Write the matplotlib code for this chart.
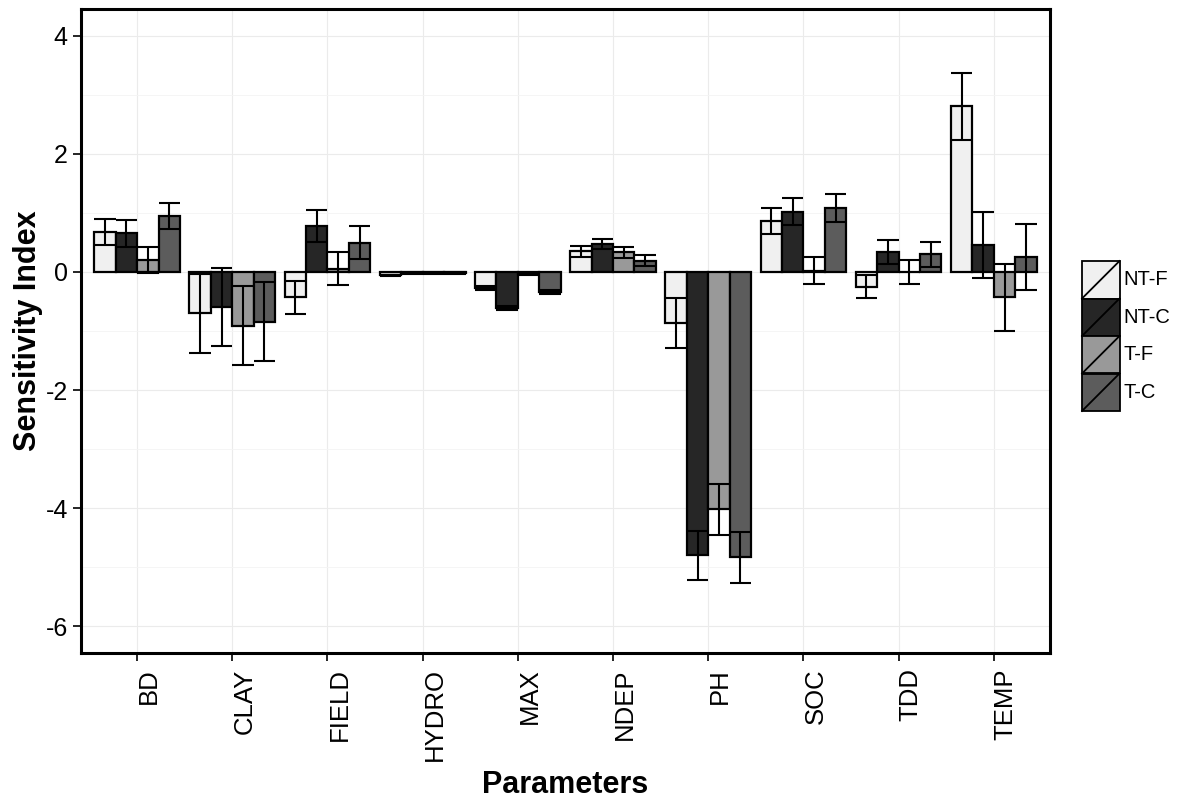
import numpy as np
import matplotlib
matplotlib.use("Agg")
import matplotlib.pyplot as plt
from matplotlib.patches import Rectangle
from matplotlib.lines import Line2D

plt.rcParams['font.family'] = ['Liberation Sans', 'DejaVu Sans']
plt.rcParams['axes.unicode_minus'] = False

params = ["BD", "CLAY", "FIELD", "HYDRO", "MAX", "NDEP", "PH", "SOC", "TDD", "TEMP"]
groups = ["NT-F", "NT-C", "T-F", "T-C"]
colors = ["#f0f0f0", "#262626", "#999999", "#5c5c5c"]

# mean sensitivity index per treatment
nt_f = [0.67, -0.70, -0.43, -0.06, -0.27, 0.35, -0.87, 0.86, -0.25, 2.80]
nt_c = [0.65, -0.59, 0.78, -0.02, -0.61, 0.47, -4.80, 1.02, 0.34, 0.45]
t_f = [0.20, -0.91, 0.05, -0.02, -0.04, 0.33, -4.02, 0.02, 0.00, -0.43]
t_c = [0.95, -0.84, 0.49, -0.02, -0.34, 0.19, -4.83, 1.08, 0.30, 0.25]
# standard errors
nt_f_se = [0.22, 0.67, 0.28, 0.015, 0.03, 0.09, 0.42, 0.22, 0.20, 0.56]
nt_c_se = [0.23, 0.66, 0.27, 0.01, 0.03, 0.09, 0.42, 0.23, 0.20, 0.56]
t_f_se = [0.22, 0.67, 0.28, 0.01, 0.02, 0.09, 0.43, 0.23, 0.20, 0.57]
t_c_se = [0.22, 0.67, 0.28, 0.01, 0.03, 0.09, 0.43, 0.23, 0.21, 0.56]

values = [nt_f, nt_c, t_f, t_c]
errors = [nt_f_se, nt_c_se, t_f_se, t_c_se]


def draw_legend(fig):
    # keys are squares with a diagonal, stacked with no gap
    W, H = 1180.0, 801.0
    x0, top, size = 1082, 261, 37.5
    for i, (g, c) in enumerate(zip(groups, colors)):
        y_top = top + i * size
        left = x0 / W
        bottom = 1 - (y_top + size) / H
        fig.patches.append(Rectangle((left, bottom), size / W, size / H,
                                     transform=fig.transFigure, facecolor=c,
                                     edgecolor="black", linewidth=1.3))
        fig.lines.append(Line2D([left, left + size / W], [bottom, bottom + size / H],
                                transform=fig.transFigure, color="black", linewidth=1.3))
        fig.text((x0 + size + 4) / W, bottom + size / H / 2, g, fontsize=14.5,
                 ha="left", va="center")


def main():
    fig = plt.figure(figsize=(11.8, 8.01), dpi=100)
    ax = fig.add_axes([0.0686, 0.1848, 0.8212, 0.804])

    x = np.arange(1, len(params) + 1)
    w = 0.225
    for i, (vals, se) in enumerate(zip(values, errors)):
        pos = x - 0.45 + w / 2 + i * w
        vals = np.array(vals)
        se = np.array(se)
        ax.bar(pos, vals, width=w, color=colors[i], edgecolor="black",
               linewidth=1.6, zorder=3, label=groups[i])
        ax.vlines(pos, vals - se, vals + se, color="black", linewidth=1.5, zorder=4)
        ax.hlines(vals + se, pos - w / 2, pos + w / 2, color="black", linewidth=1.5, zorder=4)
        ax.hlines(vals - se, pos - w / 2, pos + w / 2, color="black", linewidth=1.5, zorder=4)

    ax.set_xlim(0.41, 10.59)
    ax.set_ylim(-6.45, 4.45)
    ax.set_xticks(x)
    ax.set_xticklabels(params)
    ax.set_yticks([-6, -4, -2, 0, 2, 4])
    ax.set_yticks([-5, -3, -1, 1, 3], minor=True)
    ax.grid(which="major", color="#ebebeb", linewidth=0.8, zorder=0)
    ax.grid(which="minor", axis="y", color="#f4f4f4", linewidth=0.6, zorder=0)
    ax.set_axisbelow(True)

    for s in ax.spines.values():
        s.set_linewidth(2.2)
    ax.tick_params(axis="both", which="major", direction="out", length=6,
                   width=1.2, color="black", labelcolor="black")
    ax.tick_params(axis="y", which="minor", length=0)
    ax.tick_params(axis="y", labelsize=18, pad=3.5)
    ax.tick_params(axis="x", labelsize=18.5, pad=5)
    plt.setp(ax.get_xticklabels(), rotation=90, ha="left", va="top")

    fig.text(565 / 1180, 1 - 785 / 801, "Parameters", fontsize=22,
             fontweight="bold", ha="center", va="center")
    fig.text(28 / 1180, 1 - 331 / 801, "Sensitivity Index", fontsize=22,
             fontweight="bold", ha="center", va="center", rotation=90)

    draw_legend(fig)

    fig.savefig("out.png", dpi=100)


if __name__ == "__main__":
    main()
